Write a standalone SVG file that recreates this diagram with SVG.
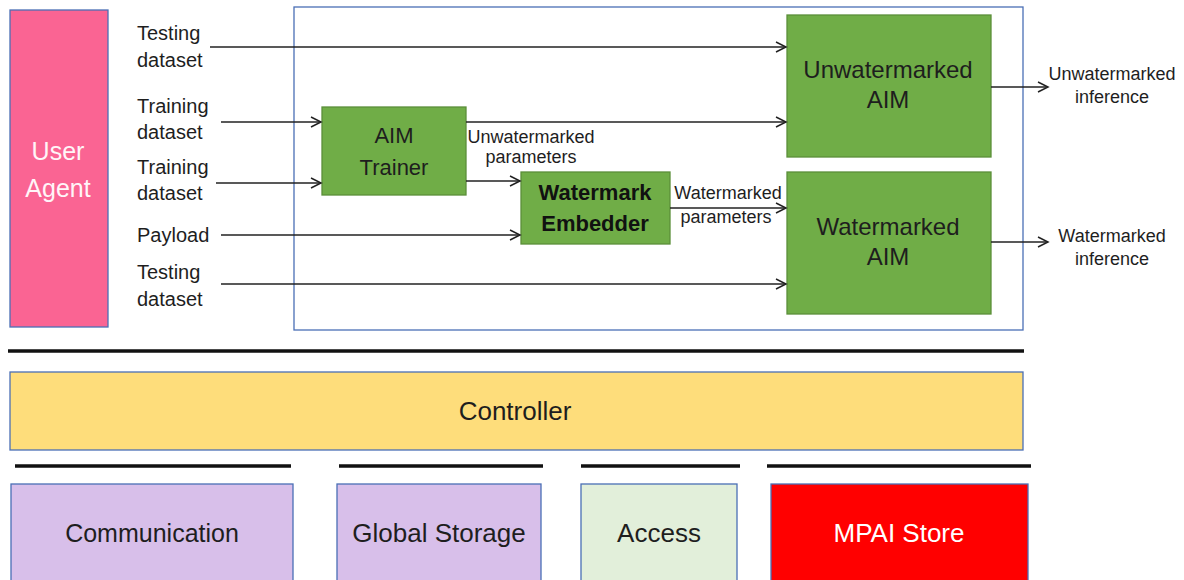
<svg xmlns="http://www.w3.org/2000/svg" width="1184" height="580" viewBox="0 0 1184 580">
<defs>
<marker id="arr" markerUnits="userSpaceOnUse" markerWidth="14" markerHeight="14" refX="11" refY="6" orient="auto">
<path d="M1,1 L11,6 L1,11" fill="none" stroke="#222" stroke-width="1.5"/>
</marker>
<style>
text{font-family:"Liberation Sans",Arial,sans-serif;fill:#1e1e1e}
.lbl{font-size:20px}
.sm{font-size:18px}
.node{stroke:#4A6FB5;stroke-width:1.3}
.green{fill:#70AD47;stroke:#5B8F3A;stroke-width:1.3}
.conn line{stroke:#222;stroke-width:1.6;marker-end:url(#arr)}
.bar{stroke:#111;stroke-width:3.5}
.c{text-anchor:middle}
</style>
</defs>
<rect width="1184" height="580" fill="#fff"/>

<g id="user-agent">
<rect class="node" x="10" y="10" width="98" height="317" fill="#FA6493"/>
<text class="c" x="58" y="160" font-size="25" style="fill:#FFF5F8">User</text>
<text class="c" x="58" y="197" font-size="25" style="fill:#FFF5F8">Agent</text>
</g>

<g id="container">
<rect x="294" y="7" width="729" height="323" fill="none" stroke="#4A6FB5" stroke-width="1.3"/>
</g>

<g id="inputs">
<text class="lbl" x="137" y="40">Testing</text>
<text class="lbl" x="137" y="67">dataset</text>
<text class="lbl" x="137" y="113">Training</text>
<text class="lbl" x="137" y="139">dataset</text>
<text class="lbl" x="137" y="174">Training</text>
<text class="lbl" x="137" y="200">dataset</text>
<text class="lbl" x="137" y="242">Payload</text>
<text class="lbl" x="137" y="279">Testing</text>
<text class="lbl" x="137" y="306">dataset</text>
</g>

<g id="aim-trainer">
<rect class="green" x="322" y="107" width="144" height="88"/>
<text class="c" x="394" y="143" font-size="22">AIM</text>
<text class="c" x="394" y="175" font-size="22">Trainer</text>
</g>

<g id="watermark-embedder">
<rect class="green" x="521" y="172" width="149" height="72"/>
<text class="c" x="595" y="200" font-size="22" font-weight="bold" style="fill:#111">Watermark</text>
<text class="c" x="595" y="231" font-size="22" font-weight="bold" style="fill:#111">Embedder</text>
</g>

<g id="unwatermarked-aim">
<rect class="green" x="787" y="15" width="204" height="142"/>
<text class="c" x="888" y="78" font-size="24">Unwatermarked</text>
<text class="c" x="888" y="108" font-size="24">AIM</text>
</g>

<g id="watermarked-aim">
<rect class="green" x="787" y="172" width="204" height="142"/>
<text class="c" x="888" y="235" font-size="24">Watermarked</text>
<text class="c" x="888" y="265" font-size="24">AIM</text>
</g>

<g id="connectors" class="conn">
<line x1="210" y1="47" x2="786" y2="47"/>
<line x1="221" y1="122" x2="321" y2="122"/>
<line x1="216" y1="183" x2="321" y2="183"/>
<line x1="221" y1="235" x2="520" y2="235"/>
<line x1="221" y1="284" x2="786" y2="284"/>
<line x1="466" y1="122" x2="786" y2="122"/>
<line x1="466" y1="181" x2="520" y2="181"/>
<line x1="670" y1="208" x2="786" y2="208"/>
<line x1="991" y1="87" x2="1048" y2="87"/>
<line x1="991" y1="242" x2="1048" y2="242"/>
</g>

<g id="connector-labels">
<text class="sm c" x="531" y="143">Unwatermarked</text>
<text class="sm c" x="531" y="163">parameters</text>
<text class="sm c" x="728" y="199">Watermarked</text>
<text class="sm c" x="726" y="223">parameters</text>
<text class="sm c" x="1112" y="80">Unwatermarked</text>
<text class="sm c" x="1112" y="103">inference</text>
<text class="sm c" x="1112" y="242">Watermarked</text>
<text class="sm c" x="1112" y="265">inference</text>
</g>

<g id="separators">
<line class="bar" x1="8" y1="351" x2="1024" y2="351"/>
<line class="bar" x1="15" y1="466" x2="291" y2="466"/>
<line class="bar" x1="339" y1="466" x2="543" y2="466"/>
<line class="bar" x1="581" y1="466" x2="740" y2="466"/>
<line class="bar" x1="767" y1="466" x2="1031" y2="466"/>
</g>

<g id="controller">
<rect class="node" x="10" y="372" width="1013" height="78" fill="#FEDD7B"/>
<text class="c" x="515" y="420" font-size="26">Controller</text>
</g>

<g id="communication">
<rect class="node" x="11" y="484" width="282" height="110" fill="#D8BFEA"/>
<text class="c" x="152" y="542" font-size="25">Communication</text>
</g>

<g id="global-storage">
<rect class="node" x="337" y="484" width="204" height="110" fill="#D8BFEA"/>
<text class="c" x="439" y="542" font-size="26">Global Storage</text>
</g>

<g id="access">
<rect class="node" x="581" y="484" width="156" height="110" fill="#E2EFDA"/>
<text class="c" x="659" y="542" font-size="26">Access</text>
</g>

<g id="mpai-store">
<rect class="node" x="771" y="484" width="257" height="110" fill="#FF0000"/>
<text class="c" x="899" y="542" font-size="26" style="fill:#fff">MPAI Store</text>
</g>
</svg>
